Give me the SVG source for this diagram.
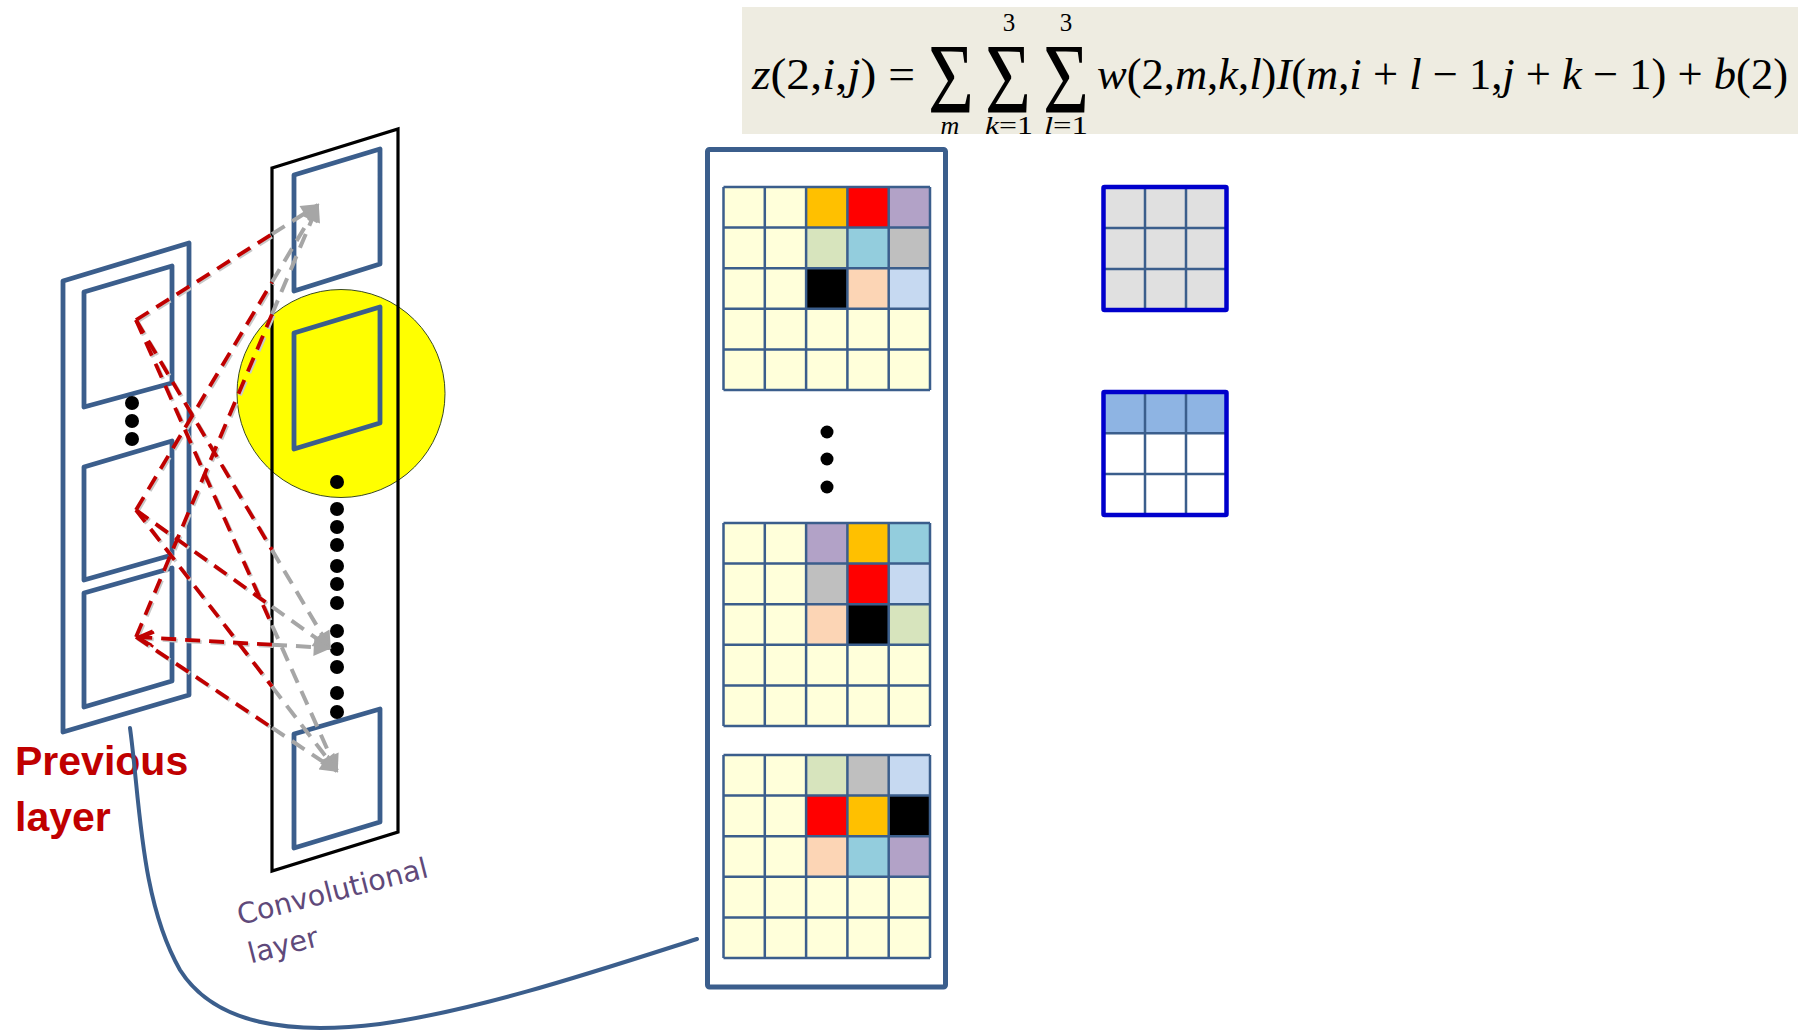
<svg xmlns="http://www.w3.org/2000/svg" xmlns:xlink="http://www.w3.org/1999/xlink" width="1807" height="1034" viewBox="0 0 1807 1034">
<style>
.bl{fill:none;stroke:#3B5E8C;stroke-width:4.8;stroke-linejoin:round}
.dot{fill:#000}
.gl{fill:none;stroke:#3B5E8C;stroke-width:2.5}
.ky{fill:#FFFFDA}
.c-or{fill:#FFC000}.c-rd{fill:#FF0000}.c-pu{fill:#B2A2C7}.c-gr{fill:#D7E4BD}.c-bl{fill:#93CDDD}
.c-gy{fill:#BFBFBF}.c-bk{fill:#000}.c-pe{fill:#FCD5B5}.c-lb{fill:#C6D9F1}
.math{font-family:"Liberation Serif","DejaVu Serif",serif;fill:#000}
.it{font-style:italic}
.gray{fill:none;stroke:#A6A6A6;stroke-width:4;stroke-dasharray:15 9}
</style>
<defs>
<marker id="arrG" viewBox="0 0 10 10" refX="9" refY="5" markerWidth="5" markerHeight="4.5" orient="auto">
<path d="M0,0 L10,5 L0,10 z" fill="#A6A6A6"/>
</marker>
<marker id="arrR" viewBox="0 0 12 12" refX="11" refY="6" markerWidth="4.5" markerHeight="4.5" orient="auto">
<path d="M1,1 L11,6 L1,11" fill="none" stroke="#C00000" stroke-width="1.8"/>
</marker>
<g id="gridLines">
<path d="M0,0 V203 M41.3,0 V203 M82.6,0 V203 M123.9,0 V203 M165.2,0 V203 M206.5,0 V203 M0,0 H206.5 M0,40.6 H206.5 M0,81.2 H206.5 M0,121.8 H206.5 M0,162.4 H206.5 M0,203 H206.5"/>
</g>
<g id="redPaths" fill="none" stroke-width="3.8" stroke-dasharray="15 9">
<path d="M136,320 L272,234.1"/>
<path d="M136,510 L272,282.1"/>
<path d="M136,637 L272,314.2"/>
<path d="M136,320 L272,550"/>
<path d="M136,510 L272,606.7"/>
<path d="M272,644.7 L138,637.1" marker-end="url(#arrR)"/>
<path d="M136,320 L272,625.2"/>
<path d="M136,510 L272,686.6"/>
<path d="M136,637 L272,727.7"/>
</g>
</defs>

<g id="formula">
<rect x="742" y="7" width="1056" height="127" fill="#EEECE1"/>
<text class="math" x="752" y="89" font-size="44" textLength="163" lengthAdjust="spacingAndGlyphs"><tspan class="it">z</tspan>(2,<tspan class="it">i</tspan>,<tspan class="it">j</tspan>) =</text>
<text class="math" x="928" y="112" font-size="100" textLength="46" lengthAdjust="spacingAndGlyphs">Σ</text>
<text class="math" x="985" y="112" font-size="100" textLength="46" lengthAdjust="spacingAndGlyphs">Σ</text>
<text class="math" x="1043" y="112" font-size="100" textLength="46" lengthAdjust="spacingAndGlyphs">Σ</text>
<text class="math" x="1009" y="31" font-size="25" text-anchor="middle">3</text>
<text class="math" x="1066" y="31" font-size="25" text-anchor="middle">3</text>
<text class="math it" x="950" y="134" font-size="26" text-anchor="middle">m</text>
<text class="math" x="985" y="134" font-size="26" textLength="48" lengthAdjust="spacingAndGlyphs"><tspan class="it">k</tspan>=1</text>
<text class="math" x="1044" y="134" font-size="26" textLength="44" lengthAdjust="spacingAndGlyphs"><tspan class="it">l</tspan>=1</text>
<text class="math" x="1097" y="89" font-size="44" textLength="691" lengthAdjust="spacingAndGlyphs"><tspan class="it">w</tspan>(2,<tspan class="it">m</tspan>,<tspan class="it">k</tspan>,<tspan class="it">l</tspan>)<tspan class="it">I</tspan>(<tspan class="it">m</tspan>,<tspan class="it">i</tspan> + <tspan class="it">l</tspan> − 1,<tspan class="it">j</tspan> + <tspan class="it">k</tspan> − 1) + <tspan class="it">b</tspan>(2)</text>
</g>

<g id="previous-layer">
<polygon class="bl" points="63,281 189,243 189,695 63,732"/>
<polygon class="bl" points="84,292 172,266 172,383 84,407"/>
<polygon class="bl" points="84,467 172,441 172,555 84,580"/>
<polygon class="bl" points="84,593 172,568 172,681 84,707"/>
<circle class="dot" cx="132" cy="403" r="7"/>
<circle class="dot" cx="132" cy="421" r="7"/>
<circle class="dot" cx="132" cy="439" r="7"/>
</g>

<g id="conv-layer">
<circle cx="341" cy="393.5" r="104" fill="#FFFF00" stroke="#3A4A20" stroke-width="1"/>
<polygon points="272,168 398,129 398,832 272,871" fill="none" stroke="#000" stroke-width="3.2"/>
<polygon class="bl" points="294,175 380,149 380,264 294,291"/>
<polygon class="bl" points="294,333 380,307 380,423 294,449"/>
<polygon class="bl" points="294,734 380,709 380,822 294,848"/>
<circle class="dot" cx="337" cy="482" r="7"/>
<circle class="dot" cx="337" cy="509" r="7"/>
<circle class="dot" cx="337" cy="527" r="7"/>
<circle class="dot" cx="337" cy="545" r="7"/>
<circle class="dot" cx="337" cy="566" r="7"/>
<circle class="dot" cx="337" cy="584" r="7"/>
<circle class="dot" cx="337" cy="603" r="7"/>
<circle class="dot" cx="337" cy="631" r="7"/>
<circle class="dot" cx="337" cy="649" r="7"/>
<circle class="dot" cx="337" cy="667" r="7"/>
<circle class="dot" cx="337" cy="693" r="7"/>
<circle class="dot" cx="337" cy="712" r="7"/>
</g>

<g id="connectors">
<use href="#redPaths" stroke="#C8C8C8" transform="translate(1.5,1.5)"/>
<use href="#redPaths" stroke="#C00000"/>
<path class="gray" d="M272,234.1 L318,205" marker-end="url(#arrG)"/>
<path class="gray" d="M272,282.1 L318,205" marker-end="url(#arrG)"/>
<path class="gray" d="M272,314.2 L318,205" marker-end="url(#arrG)"/>
<path class="gray" d="M272,550 L330,648" marker-end="url(#arrG)"/>
<path class="gray" d="M272,606.7 L330,648" marker-end="url(#arrG)"/>
<path class="gray" d="M272,644.7 L330,648" marker-end="url(#arrG)"/>
<path class="gray" d="M272,625.2 L337,771" marker-end="url(#arrG)"/>
<path class="gray" d="M272,686.6 L337,771" marker-end="url(#arrG)"/>
<path class="gray" d="M272,727.7 L337,771" marker-end="url(#arrG)"/>
</g>

<g id="feature-maps">
<rect x="707.5" y="149.5" width="238" height="837.5" rx="2" fill="#FFF" stroke="#3B5E8C" stroke-width="5"/>
<g id="map-1">
<rect class="ky" x="723.5" y="187" width="206.5" height="203"/>
<rect class="c-or" x="806.1" y="187" width="41.3" height="40.6"/>
<rect class="c-rd" x="847.4" y="187" width="41.3" height="40.6"/>
<rect class="c-pu" x="888.7" y="187" width="41.3" height="40.6"/>
<rect class="c-gr" x="806.1" y="227.6" width="41.3" height="40.6"/>
<rect class="c-bl" x="847.4" y="227.6" width="41.3" height="40.6"/>
<rect class="c-gy" x="888.7" y="227.6" width="41.3" height="40.6"/>
<rect class="c-bk" x="806.1" y="268.2" width="41.3" height="40.6"/>
<rect class="c-pe" x="847.4" y="268.2" width="41.3" height="40.6"/>
<rect class="c-lb" x="888.7" y="268.2" width="41.3" height="40.6"/>
<use href="#gridLines" class="gl" x="723.5" y="187"/>
</g>
<circle class="dot" cx="827" cy="432" r="6.5"/>
<circle class="dot" cx="827" cy="459" r="6.5"/>
<circle class="dot" cx="827" cy="487" r="6.5"/>
<g id="map-2">
<rect class="ky" x="723.5" y="523" width="206.5" height="203"/>
<rect class="c-pu" x="806.1" y="523" width="41.3" height="40.6"/>
<rect class="c-or" x="847.4" y="523" width="41.3" height="40.6"/>
<rect class="c-bl" x="888.7" y="523" width="41.3" height="40.6"/>
<rect class="c-gy" x="806.1" y="563.6" width="41.3" height="40.6"/>
<rect class="c-rd" x="847.4" y="563.6" width="41.3" height="40.6"/>
<rect class="c-lb" x="888.7" y="563.6" width="41.3" height="40.6"/>
<rect class="c-pe" x="806.1" y="604.2" width="41.3" height="40.6"/>
<rect class="c-bk" x="847.4" y="604.2" width="41.3" height="40.6"/>
<rect class="c-gr" x="888.7" y="604.2" width="41.3" height="40.6"/>
<use href="#gridLines" class="gl" x="723.5" y="523"/>
</g>
<g id="map-3">
<rect class="ky" x="723.5" y="755" width="206.5" height="203"/>
<rect class="c-gr" x="806.1" y="755" width="41.3" height="40.6"/>
<rect class="c-gy" x="847.4" y="755" width="41.3" height="40.6"/>
<rect class="c-lb" x="888.7" y="755" width="41.3" height="40.6"/>
<rect class="c-rd" x="806.1" y="795.6" width="41.3" height="40.6"/>
<rect class="c-or" x="847.4" y="795.6" width="41.3" height="40.6"/>
<rect class="c-bk" x="888.7" y="795.6" width="41.3" height="40.6"/>
<rect class="c-pe" x="806.1" y="836.2" width="41.3" height="40.6"/>
<rect class="c-bl" x="847.4" y="836.2" width="41.3" height="40.6"/>
<rect class="c-pu" x="888.7" y="836.2" width="41.3" height="40.6"/>
<use href="#gridLines" class="gl" x="723.5" y="755"/>
</g>
</g>

<g id="kernel-1">
<rect x="1103.5" y="187" width="123" height="123" fill="#E0E0E0"/>
<path class="gl" d="M1145,187 V310 M1186,187 V310 M1103.5,228 H1226.5 M1103.5,269 H1226.5"/>
<rect x="1103.5" y="187" width="123" height="123" fill="none" stroke="#0000CC" stroke-width="4.5" rx="1"/>
</g>
<g id="kernel-2">
<rect x="1103.5" y="392" width="123" height="123" fill="#FFF"/>
<rect x="1103.5" y="392" width="123" height="41.3" fill="#8EB4E3"/>
<path class="gl" d="M1145,392 V515 M1186,392 V515 M1103.5,433.3 H1226.5 M1103.5,474 H1226.5"/>
<rect x="1103.5" y="392" width="123" height="123" fill="none" stroke="#0000CC" stroke-width="4.5" rx="1"/>
</g>

<g id="labels">
<text x="15" y="775" font-family="Liberation Sans, Arial, sans-serif" font-weight="bold" font-size="41" fill="#C00000">Previous</text>
<text x="15" y="831" font-family="Liberation Sans, Arial, sans-serif" font-weight="bold" font-size="41" fill="#C00000">layer</text>
<g transform="translate(240,925) rotate(-14.3)" font-family="DejaVu Sans, sans-serif" font-size="28.5" fill="#5F497A">
<text x="0" y="0">Convolutional</text>
<text x="1" y="40">layer</text>
</g>
</g>

<g id="link">
<path d="M130,728 C140,800 140,900 180,970 C215,1025 290,1035 380,1024 C480,1010 600,970 697,939" fill="none" stroke="#3B5E8C" stroke-width="4" stroke-linecap="round"/>
</g>
</svg>
